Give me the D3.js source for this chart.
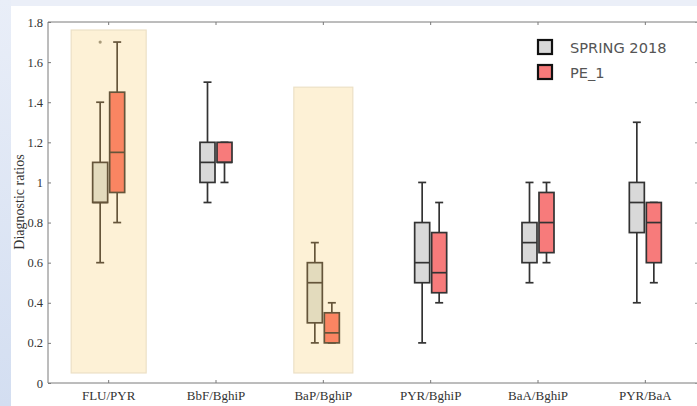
<!DOCTYPE html>
<html>
<head>
<meta charset="utf-8">
<script src="https://cdn.jsdelivr.net/npm/d3@7/dist/d3.min.js"></script>
<style>
  body { margin: 0; background: #fff; }
  svg { display: block; }
</style>
</head>
<body>
<svg id="chart" width="697" height="406"></svg>
<script>
// categories and series
var categories = ["FLU/PYR", "BbF/BghiP", "BaP/BghiP", "PYR/BghiP", "BaA/BghiP", "PYR/BaA"];
var seriesNames = ["SPRING 2018", "PE_1"];

// box stats per category: [min, q1, median, q3, max]
var spring2018 = [
  [0.6, 0.9, 0.9, 1.1, 1.4],
  [0.9, 1.0, 1.1, 1.2, 1.5],
  [0.2, 0.3, 0.5, 0.6, 0.7],
  [0.2, 0.5, 0.6, 0.8, 1.0],
  [0.5, 0.6, 0.7, 0.8, 1.0],
  [0.4, 0.75, 0.9, 1.0, 1.3]
];
var pe1 = [
  [0.8, 0.95, 1.15, 1.45, 1.7],
  [1.0, 1.1, 1.1, 1.2, 1.2],
  [0.2, 0.2, 0.25, 0.35, 0.4],
  [0.4, 0.45, 0.55, 0.75, 0.9],
  [0.6, 0.65, 0.8, 0.95, 1.0],
  [0.5, 0.6, 0.8, 0.9, 0.9]
];
var outliers = [{cat: "FLU/PYR", series: 0, value: 1.7}];

// shaded groups (value range covered)
var highlights = [
  {cat: "FLU/PYR", top: 1.76, bottom: 0.05},
  {cat: "BaP/BghiP", top: 1.475, bottom: 0.05}
];
var yTicks = [0, 0.2, 0.4, 0.6, 0.8, 1, 1.2, 1.4, 1.6, 1.8];

// --- drawing ---
var svg = d3.select("#chart");
var W = 697, H = 406;
var mLeft = 48, mTop = 22, mBottom = 383, mRight = 699;

// page background strips (slide frame)
var grad = svg.append("defs").append("linearGradient")
    .attr("id", "side").attr("x1", 0).attr("y1", 0).attr("x2", 0).attr("y2", 1);
grad.append("stop").attr("offset", "0%").attr("stop-color", "#e9eef8");
grad.append("stop").attr("offset", "100%").attr("stop-color", "#d3def1");
svg.append("rect").attr("x", 0).attr("y", 0).attr("width", W).attr("height", 6).attr("fill", "#ebeff8");
svg.append("rect").attr("x", 0).attr("y", 0).attr("width", 11).attr("height", H).attr("fill", "url(#side)");

var x = d3.scaleBand().domain(categories).range([55, mRight]);
var y = d3.scaleLinear().domain([0, 1.8]).range([mBottom, mTop]);
var xc = d => x(d) + x.bandwidth() / 2;

var hlWidth = {"FLU/PYR": 75, "BaP/BghiP": 59};
var isHl = {};
highlights.forEach(h => isHl[h.cat] = true);

svg.append("g").selectAll("rect")
  .data(highlights)
  .enter().append("rect")
  .attr("x", d => xc(d.cat) - hlWidth[d.cat] / 2)
  .attr("width", d => hlWidth[d.cat])
  .attr("y", d => y(d.top))
  .attr("height", d => y(d.bottom) - y(d.top))
  .attr("fill", "#fdf1d6")
  .attr("stroke", "#ece0c6")
  .attr("stroke-width", 1.2);

// frame
var axisCol = "#7a7a7a";
svg.append("line").attr("x1", mLeft).attr("x2", mRight).attr("y1", mBottom).attr("y2", mBottom)
  .attr("stroke", axisCol);
svg.append("line").attr("x1", mLeft).attr("x2", mRight).attr("y1", mTop).attr("y2", mTop)
  .attr("stroke", axisCol);
svg.append("line").attr("x1", mLeft).attr("x2", mLeft).attr("y1", mTop).attr("y2", mBottom)
  .attr("stroke", axisCol);

// y axis
var yAx = svg.append("g")
  .attr("transform", "translate(" + mLeft + ",0)")
  .call(d3.axisLeft(y).tickValues(yTicks).tickSize(-3).tickPadding(5)
    .tickFormat(d => String(+d.toFixed(1))));
yAx.select(".domain").remove();
yAx.selectAll("line").attr("stroke", axisCol);
yAx.selectAll("text").attr("font-family", "Liberation Serif").attr("font-size", 12.5).attr("fill", "#333");

// right ticks (axis sits just outside the view)
var rAx = svg.append("g")
  .attr("transform", "translate(" + mRight + ",0)")
  .call(d3.axisRight(y).tickValues(yTicks).tickSize(-4).tickFormat(""));
rAx.select(".domain").remove();
rAx.selectAll("line").attr("stroke", "#999");

// x axis
var xAx = svg.append("g")
  .attr("transform", "translate(0," + mBottom + ")")
  .call(d3.axisBottom(x).tickSize(-3).tickPadding(8));
xAx.select(".domain").remove();
xAx.selectAll("line").attr("stroke", axisCol);
xAx.selectAll("text").attr("font-family", "Liberation Serif").attr("font-size", 13).attr("fill", "#333");

var tAx = svg.append("g")
  .attr("transform", "translate(0," + mTop + ")")
  .call(d3.axisTop(x).tickSize(-3).tickFormat(""));
tAx.select(".domain").remove();
tAx.selectAll("line").attr("stroke", axisCol);

svg.append("text")
  .attr("transform", "rotate(-90)")
  .attr("x", -202).attr("y", 24)
  .attr("text-anchor", "middle")
  .attr("font-family", "Liberation Serif").attr("font-size", 14).attr("fill", "#333")
  .text("Diagnostic ratios");

// boxes
var fills = {normal: ["#d9d9d9", "#f77b7b"], hl: ["#e3dbbd", "#fa8562"]};
var strokes = {normal: "#333333", hl: "#65553a"};
var boxW = 15, gap = 1, capW = 8, lw = 1.7;

var rows = [];
[spring2018, pe1].forEach(function (series, s) {
  series.forEach(function (v, i) {
    rows.push({cat: categories[i], s: s, min: v[0], q1: v[1], med: v[2], q3: v[3], max: v[4]});
  });
});

var g = svg.append("g").selectAll("g")
  .data(rows)
  .enter().append("g")
  .attr("transform", d => "translate(" + (xc(d.cat) + (d.s === 0 ? -gap - boxW / 2 : gap + boxW / 2)) + ",0)");

g.each(function (d) {
  var el = d3.select(this);
  var mode = isHl[d.cat] ? "hl" : "normal";
  var st = strokes[mode];
  el.append("line").attr("x1", 0).attr("x2", 0).attr("y1", y(d.max)).attr("y2", y(d.q3))
    .attr("stroke", st).attr("stroke-width", lw);
  el.append("line").attr("x1", 0).attr("x2", 0).attr("y1", y(d.q1)).attr("y2", y(d.min))
    .attr("stroke", st).attr("stroke-width", lw);
  el.append("line").attr("x1", -capW / 2).attr("x2", capW / 2).attr("y1", y(d.max)).attr("y2", y(d.max))
    .attr("stroke", st).attr("stroke-width", lw);
  el.append("line").attr("x1", -capW / 2).attr("x2", capW / 2).attr("y1", y(d.min)).attr("y2", y(d.min))
    .attr("stroke", st).attr("stroke-width", lw);
  el.append("rect").attr("x", -boxW / 2).attr("width", boxW)
    .attr("y", y(d.q3)).attr("height", Math.max(y(d.q1) - y(d.q3), 0))
    .attr("fill", fills[mode][d.s]).attr("stroke", st).attr("stroke-width", lw);
  el.append("line").attr("x1", -boxW / 2).attr("x2", boxW / 2).attr("y1", y(d.med)).attr("y2", y(d.med))
    .attr("stroke", st).attr("stroke-width", lw);
});

svg.append("g").selectAll("circle")
  .data(outliers)
  .enter().append("circle")
  .attr("cx", d => xc(d.cat) + (d.series === 0 ? -gap - boxW / 2 : gap + boxW / 2))
  .attr("cy", d => y(d.value))
  .attr("r", 1.6)
  .attr("fill", "#a89a7a");

// legend
var leg = svg.append("g").attr("transform", "translate(537,39)");
var li = leg.selectAll("g")
  .data(seriesNames)
  .enter().append("g")
  .attr("transform", (d, i) => "translate(0," + (i * 25) + ")");
li.append("rect").attr("x", 1).attr("y", 1).attr("width", 14).attr("height", 14)
  .attr("fill", (d, i) => fills.normal[i]).attr("stroke", "#111").attr("stroke-width", 2.2);
li.append("text").attr("x", 33).attr("y", 14)
  .attr("font-family", "DejaVu Sans").attr("font-size", 14.6).attr("fill", "#555")
  .text(d => d);
</script>
</body>
</html>
